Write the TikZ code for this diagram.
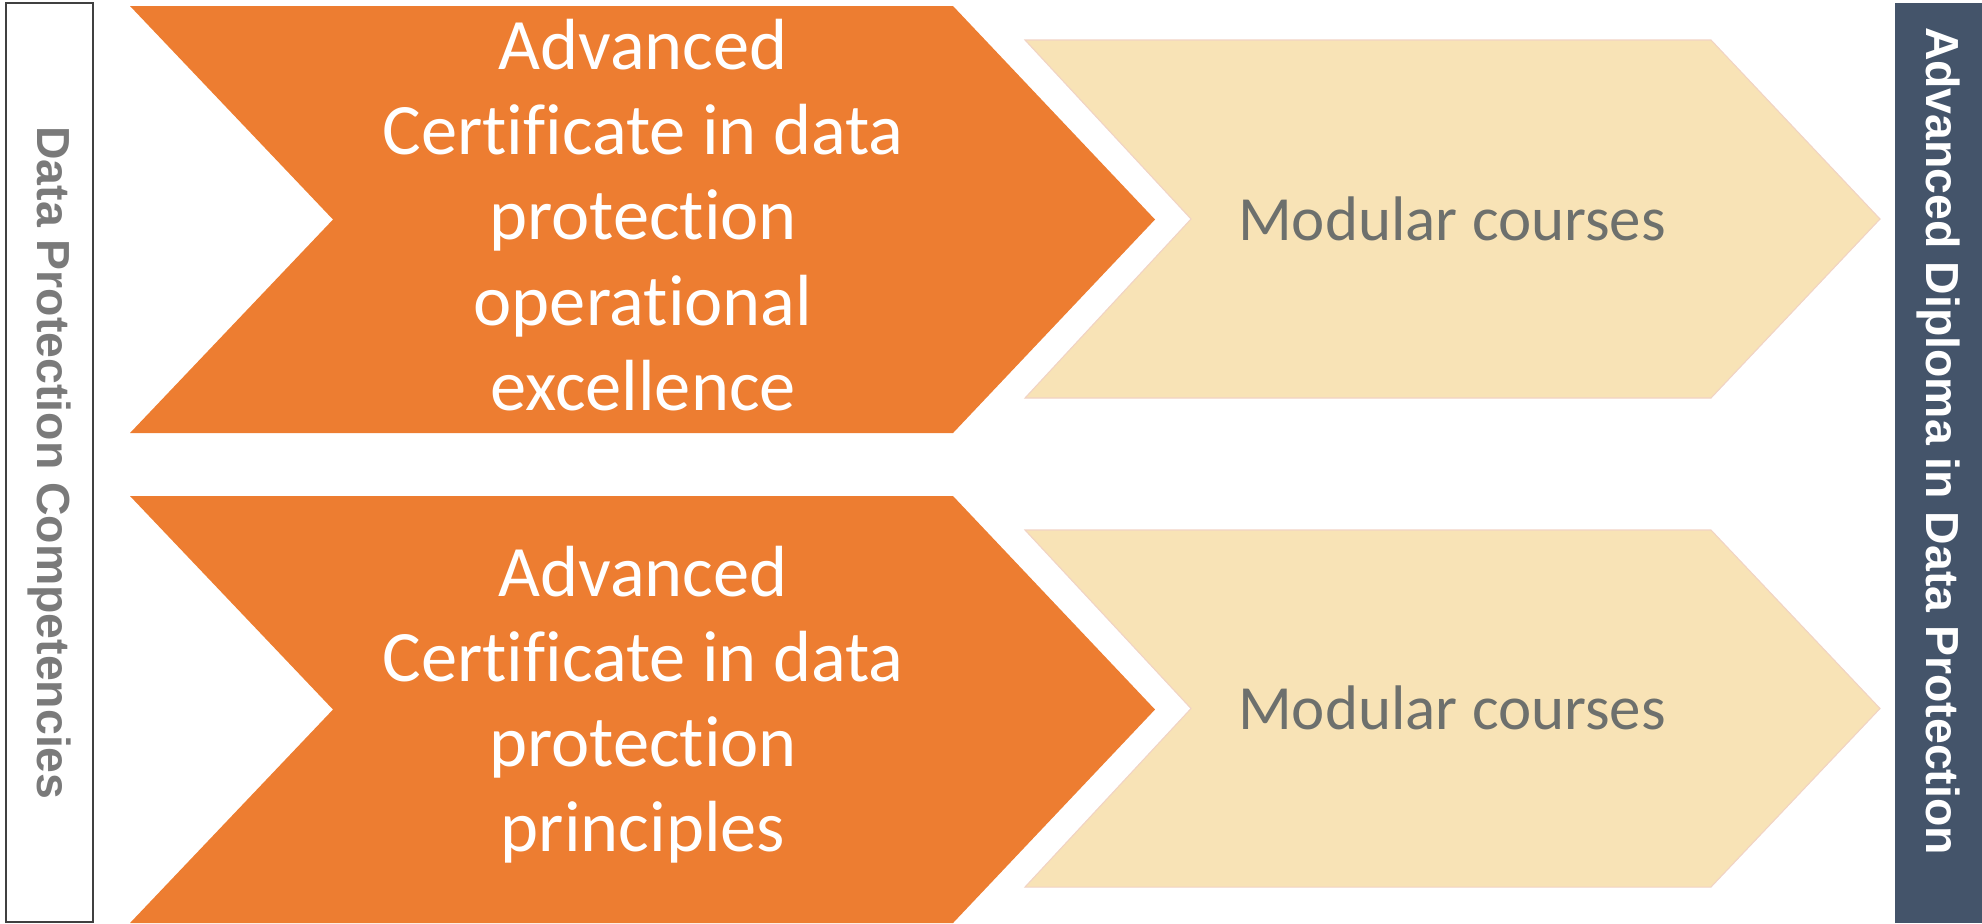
\documentclass[tikz,border=0pt]{standalone}
\usepackage{fontspec}
\usepackage{tikz}
\usepackage{xcolor}
\setmainfont{Carlito}[Ligatures={NoCommon}]
\newfontfamily\sidefont{Liberation Sans}[BoldFont={Liberation Sans Bold}]
\definecolor{chevorange}{HTML}{ED7D31}
\definecolor{chevcream}{HTML}{F8E3B6}
\definecolor{creamedge}{HTML}{F1D3C4}
\definecolor{modgray}{HTML}{6D706D}
\definecolor{sidegray}{HTML}{7A7A7A}
\definecolor{slate}{HTML}{44546A}

\begin{document}
\begin{tikzpicture}[x=0.01cm,y=-0.01cm,
  certtext/.style={align=center,text=white,font=\fontsize{20.6}{24.2}\selectfont},
  modtext/.style={text=modgray,font=\fontsize{17.9}{21}\selectfont},
  sidetext/.style={font=\sidefont\bfseries\fontsize{13.2}{15}\selectfont,rotate=-90}]
\useasboundingbox (0,0) rectangle (1982,923);
% side bars
\draw[draw=black!75,line width=0.8pt] (6,3) rectangle (93,922);
\fill[slate] (1895,3) rectangle (1982,923);
\draw (49.5,463) node[sidetext,text=sidegray](competencies) {Data Protection Competencies};
\draw (1938.5,441) node[sidetext,text=white](diploma) {Advanced Diploma in Data Protection};
% orange chevrons
\fill[chevorange] (130,6) -- (953,6) -- (1155,219.5) -- (953,433) -- (130,433) -- (333,219.5) -- cycle;
\fill[chevorange] (130,496) -- (953,496) -- (1155,709.5) -- (953,923) -- (130,923) -- (333,709.5) -- cycle;
% cream chevrons
\filldraw[fill=chevcream,draw=creamedge,line width=0.3pt] (1025,40) -- (1711,40) -- (1880,219) -- (1711,398) -- (1025,398) -- (1191,219) -- cycle;
\filldraw[fill=chevcream,draw=creamedge,line width=0.3pt] (1025,530) -- (1711,530) -- (1880,708.5) -- (1711,887) -- (1025,887) -- (1191,708.5) -- cycle;
% texts
\draw (643,215) node[certtext](operational) {Advanced\\Certificate in data\\protection\\operational\\excellence};
\draw (643,705) node[certtext](principles) {Advanced\\Certificate in data\\protection\\principles};
\draw (1452,219) node[modtext](modtop) {Modular courses};
\draw (1452,708) node[modtext](modbottom) {Modular courses};
\end{tikzpicture}
\end{document}
